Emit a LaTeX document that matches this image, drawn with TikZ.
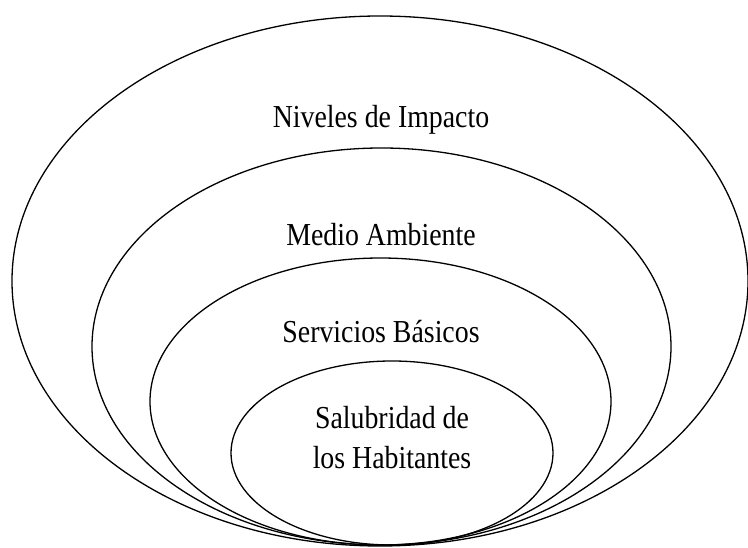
\documentclass[tikz,border=0pt]{standalone}
\usepackage{fontspec}
\setmainfont{Liberation Serif}[FakeStretch=0.87]
\usetikzlibrary{shapes.geometric}
\tikzset{ring/.style={ellipse, draw, line width=1.3pt, inner sep=0pt, outer sep=0pt},
  lbl/.style={font=\fontsize{32}{40}\selectfont, inner sep=0pt, align=center}}
\begin{document}
\begin{tikzpicture}[x=1pt,y=-1pt]
\useasboundingbox (0,0) rectangle (748,548);
\node[ring, minimum width=736pt, minimum height=530pt] (lvl0) at (380,281){};
\node[ring, minimum width=579pt, minimum height=397pt] (lvl1) at (381.5,346.5){};
\node[ring, minimum width=461pt, minimum height=287pt] (lvl2) at (380.5,401.5){};
\node[ring, minimum width=322pt, minimum height=184pt] (lvl3) at (392,453){};
\node[lbl] (txt0) at (381,120){Niveles de Impacto};
\node[lbl] (txt1) at (381,235){Medio Ambiente};
\node[lbl] (txt2) at (381,332){Servicios Básicos};
\node[lbl] (txt3) at (392,438){Salubridad de\\los Habitantes};
\end{tikzpicture}
\end{document}
